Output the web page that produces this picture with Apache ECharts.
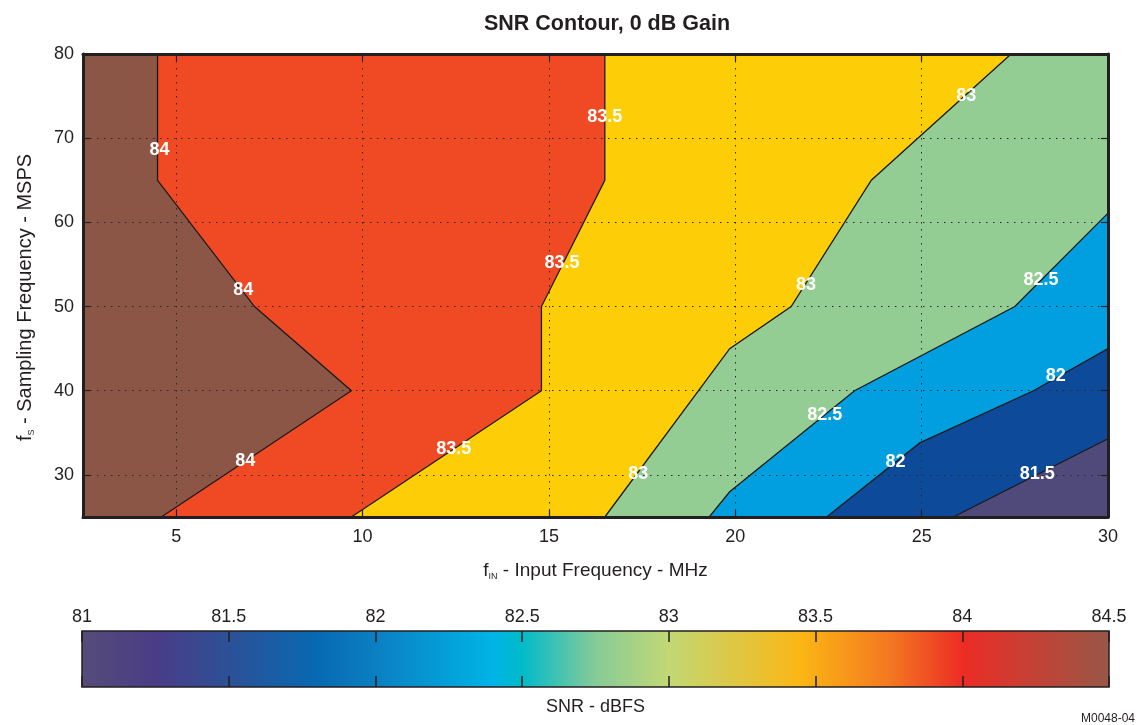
<!DOCTYPE html>
<html>
<head>
<meta charset="utf-8">
<script src="https://cdn.jsdelivr.net/npm/echarts@6/dist/echarts.min.js"></script>
<style>
  html, body { margin: 0; padding: 0; background: #ffffff; }
  #chart { width: 1143px; height: 725px; }
</style>
</head>
<body>
<div id="chart"></div>
<script>
// Domain of the contour map
const finRange = [2.5, 30];   // input frequency, MHz
const fsRange = [25, 80];     // sampling frequency, MSPS
const finTicks = [5, 10, 15, 20, 25, 30];
const fsTicks = [30, 40, 50, 60, 70, 80];

// SNR contour levels (dBFS) and their iso-lines, each traced from the bottom edge
// to the top or right edge as [fIN, fS] pairs
const levels = [81.5, 82, 82.5, 83, 83.5, 84];
const line815 = [[25.85, 25], [30, 34.3]];
const line82 = [[22.45, 25], [24.95, 33.8], [28, 40], [30, 45]];
const line825 = [[19.3, 25], [19.85, 28], [23.2, 40], [27.5, 50], [30, 61.1]];
const line83 = [[16.5, 25], [19.85, 45], [21.5, 50], [23.65, 65], [27.4, 80]];
const line835 = [[9.7, 25], [14.8, 40], [14.8, 50], [16.5, 65], [16.5, 80]];
const line84 = [[4.6, 25], [9.7, 40], [7.1, 50], [4.5, 65], [4.5, 80]];
const contourLines = [line815, line82, line825, line83, line835, line84];

// Band colours: below the first level, then at/above each level
const bandColors = ['#504a7b', '#0e4a9a', '#019fe0', '#93cd93', '#fdcd08', '#ef4a23', '#8c5646'];

// Inline level labels: [fIN, fS, level]
const labelPoints = [
  [4.55, 68.6, 84], [6.8, 52.0, 84], [6.85, 31.7, 84],
  [16.5, 72.5, 83.5], [15.35, 55.2, 83.5], [12.45, 33.1, 83.5],
  [26.2, 75.0, 83], [21.9, 52.5, 83], [17.4, 30.1, 83],
  [28.2, 53.2, 82.5], [22.4, 37.1, 82.5],
  [28.6, 41.7, 82], [24.3, 31.5, 82],
  [28.1, 30.1, 81.5]
];

// Colour bar scale
const barRange = [81, 84.5];
const barStops = [
  [81, '#564c78'], [81.25, '#4a3c86'], [81.5, '#2d5097'], [81.8, '#0769b1'],
  [82, '#0b7fc3'], [82.4, '#00b3e6'], [82.5, '#00bbc9'], [82.75, '#86cb98'],
  [83, '#c2d874'], [83.45, '#fbb614'], [83.75, '#f47820'], [84, '#ec2c25'],
  [84.5, '#985747']
];

const FONT = "'Liberation Sans', Arial, Helvetica, sans-serif";
const INK = '#231f20';

const chart = echarts.init(document.getElementById('chart'), null, { renderer: 'canvas' });

// Region where SNR >= level: the iso-line closed through the upper-left part of the domain
function bandPolygon(line) {
  const pts = [[finRange[0], fsRange[0]]].concat(line);
  const last = line[line.length - 1];
  if (last[0] >= finRange[1] && last[1] < fsRange[1]) pts.push([finRange[1], fsRange[1]]);
  pts.push([finRange[0], fsRange[1]]);
  return pts;
}

function renderBands(params, api) {
  const i = params.dataIndex;
  const children = [];
  if (i === 0) {
    const whole = [[finRange[0], fsRange[0]], [finRange[1], fsRange[0]],
                   [finRange[1], fsRange[1]], [finRange[0], fsRange[1]]];
    children.push({ type: 'polygon', shape: { points: whole.map(p => api.coord(p)) },
                    style: { fill: bandColors[0] } });
  }
  const line = contourLines[i];
  children.push({ type: 'polygon', shape: { points: bandPolygon(line).map(p => api.coord(p)) },
                  style: { fill: bandColors[i + 1] } });
  children.push({ type: 'polyline', shape: { points: line.map(p => api.coord(p)) },
                  style: { stroke: '#1b1b1b', lineWidth: 1.3, fill: null } });
  return { type: 'group', children };
}

function renderLabels(params, api) {
  const p = api.coord([api.value(0), api.value(1)]);
  return {
    type: 'text', x: p[0], y: p[1],
    style: {
      text: String(api.value(2)), fill: '#ffffff',
      font: 'bold 18px ' + FONT, align: 'center', verticalAlign: 'middle'
    }
  };
}

function renderBar(params, api) {
  const a = api.coord([barRange[0], 1]);
  const b = api.coord([barRange[1], 0]);
  const span = barRange[1] - barRange[0];
  return {
    type: 'rect',
    shape: { x: a[0], y: a[1], width: b[0] - a[0], height: b[1] - a[1] },
    style: {
      fill: new echarts.graphic.LinearGradient(0, 0, 1, 0,
        barStops.map(s => ({ offset: (s[0] - barRange[0]) / span, color: s[1] }))),
      stroke: INK, lineWidth: 1.5
    }
  };
}

const tickLabelStyle = { color: INK, fontSize: 18, fontFamily: FONT };
const dotted = { show: true, lineStyle: { color: '#2a2a2a', width: 1, type: [1.5, 5.5] } };
const frame = { show: true, onZero: false, lineStyle: { color: INK, width: 3 } };
const inTicks = (vals) => ({ show: true, inside: true, length: 7, customValues: vals,
                             lineStyle: { color: INK, width: 1.2 } });
const barTicks = { show: true, inside: true, length: 11, lineStyle: { color: INK, width: 1.5 } };
const richName = (size) => ({
  m: { fontFamily: FONT, fontSize: size, color: INK, lineHeight: size + 2 },
  s: { fontFamily: FONT, fontSize: 9, color: INK, lineHeight: 9, verticalAlign: 'bottom' }
});

const option = {
  animation: false,
  backgroundColor: '#ffffff',
  title: {
    text: 'SNR Contour, 0 dB Gain',
    left: 602, top: 8, textAlign: 'center',
    textStyle: { fontFamily: FONT, fontSize: 21.5, fontWeight: 'bold', color: INK }
  },
  grid: [
    { left: 83, top: 54, width: 1025, height: 463 },
    { left: 82, top: 631, width: 1027, height: 56 }
  ],
  xAxis: [
    {
      type: 'value', gridIndex: 0, position: 'bottom', min: finRange[0], max: finRange[1], z: 3,
      axisLine: frame, axisTick: inTicks(finTicks),
      axisLabel: Object.assign({ customValues: finTicks, margin: 11 }, tickLabelStyle),
      splitLine: dotted,
      name: '{m|f}{s|IN}{m| - Input Frequency - MHz}',
      nameLocation: 'middle', nameGap: 43,
      nameTextStyle: { rich: richName(19) }
    },
    {
      type: 'value', gridIndex: 0, position: 'top', min: finRange[0], max: finRange[1], z: 3,
      axisLine: frame, axisTick: inTicks(finTicks), axisLabel: { show: false }, splitLine: { show: false }
    },
    {
      type: 'value', gridIndex: 1, position: 'top', min: barRange[0], max: barRange[1], interval: 0.5, z: 3,
      axisLine: { show: false, onZero: false },
      axisTick: barTicks,
      axisLabel: Object.assign({ margin: 5 }, tickLabelStyle),
      splitLine: { show: false }
    },
    {
      type: 'value', gridIndex: 1, position: 'bottom', min: barRange[0], max: barRange[1], interval: 0.5, z: 3,
      axisLine: { show: false, onZero: false },
      axisTick: barTicks,
      axisLabel: { show: false }, splitLine: { show: false },
      name: 'SNR - dBFS', nameLocation: 'middle', nameGap: 11,
      nameTextStyle: { fontFamily: FONT, fontSize: 18, color: INK, verticalAlign: 'top' }
    }
  ],
  yAxis: [
    {
      type: 'value', gridIndex: 0, position: 'left', min: fsRange[0], max: fsRange[1], z: 3,
      axisLine: frame, axisTick: inTicks(fsTicks),
      axisLabel: Object.assign({ customValues: fsTicks, margin: 9 }, tickLabelStyle),
      splitLine: dotted,
      name: '{m|f}{s|S}{m| - Sampling Frequency - MSPS}',
      nameLocation: 'middle', nameGap: 47, nameRotate: 90,
      nameTextStyle: { rich: richName(20), padding: [0, 24, 0, 0] }
    },
    {
      type: 'value', gridIndex: 0, position: 'right', min: fsRange[0], max: fsRange[1], z: 3,
      axisLine: frame, axisTick: inTicks(fsTicks), axisLabel: { show: false }, splitLine: { show: false }
    },
    {
      type: 'value', gridIndex: 1, min: 0, max: 1, show: false
    }
  ],
  graphic: [
    {
      type: 'text', right: 8, top: 713,
      style: { text: 'M0048-04', fill: INK, font: '12px ' + FONT }
    }
  ],
  series: [
    {
      type: 'custom', name: 'bands', xAxisIndex: 0, yAxisIndex: 0, z: 1,
      data: levels.map((lv, i) => [i]),
      renderItem: renderBands, silent: true
    },
    {
      type: 'custom', name: 'levelLabels', xAxisIndex: 0, yAxisIndex: 0, z: 5,
      data: labelPoints,
      encode: { x: 0, y: 1 },
      renderItem: renderLabels, silent: true
    },
    {
      type: 'custom', name: 'colorBar', xAxisIndex: 2, yAxisIndex: 2, z: 1,
      data: [[barRange[0], 0]],
      renderItem: renderBar, silent: true
    }
  ]
};

chart.setOption(option);
</script>
</body>
</html>
